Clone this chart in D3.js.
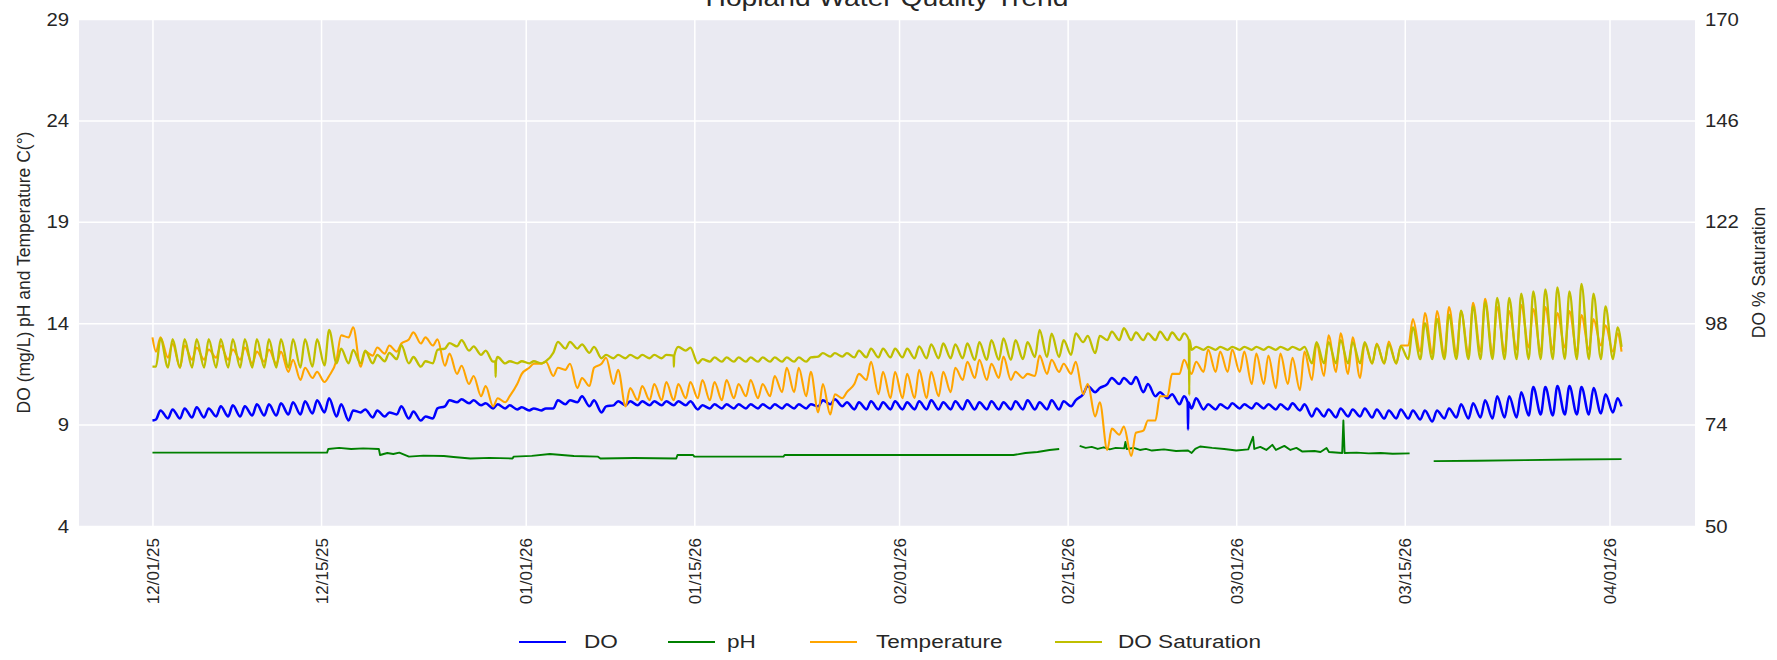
<!DOCTYPE html>
<html><head><meta charset="utf-8">
<script src="https://cdn.jsdelivr.net/npm/d3@7"></script>
<style>html,body{margin:0;padding:0;background:#fff;} svg{display:block;font-family:"Liberation Sans",Arial,Helvetica,sans-serif;}</style>
</head><body><svg id="c" width="1777" height="660"></svg>
<script>
// ---------------- data ----------------
const title = "Hopland Water Quality Trend";
const seriesNames = ["DO", "pH", "Temperature", "DO Saturation"];
const seriesColors = ["#0000ff", "#008000", "#ffa500", "#bfbf00"];
const startDay = [2025, 11, 1];      // 12/01/25, day 0
const dataDays = 122;                // last sample ~04/02/26
const xTickDates = ["2025-12-01","2025-12-15","2026-01-01","2026-01-15","2026-02-01","2026-02-15","2026-03-01","2026-03-15","2026-04-01"];
const leftTicks = [4, 9, 14, 19, 24, 29];
const rightTicks = [50, 74, 98, 122, 146, 170];

// daily low / high (days 0..121)
const doLow = [9.25,9.3,9.3,9.35,9.35,9.4,9.4,9.4,9.45,9.45, 9.45,9.5,9.5,9.55,9.6,9.4,9.2,9.6,9.35,9.4,
  9.5,9.3,9.2,9.3,9.9,10.1,10.05,9.95,9.8,9.8, 9.75,9.7,9.7,9.8,10.0,10.1,9.9,9.6,9.95,9.95,
  9.95,9.95,9.95,9.95,9.95,9.75,9.8,9.8,9.8,9.8, 9.8,9.8,9.8,9.8,9.8,9.9,10.0,9.9,9.75,9.75,
  9.75,9.75,9.75,9.75,9.75,9.75,9.75,9.75,9.75,9.75, 9.75,9.75,9.75,9.75,9.75,9.75,9.9,10.5,10.6,11.0,
  11.0,11.0,10.6,10.4,10.3,10.0,9.8,9.75,9.75,9.8, 9.8,9.8,9.8,9.75,9.75,9.7,9.4,9.4,9.35,9.4,
  9.4,9.35,9.3,9.3,9.3,9.25,9.15,9.3,9.35,9.3, 9.35,9.3,9.35,9.35,9.45,9.5,9.45,9.5,9.5,9.5, 9.55,9.6];
const doHigh = [9.7,9.75,9.8,9.85,9.8,9.9,9.95,9.9,10.0,10.0, 10.05,10.1,10.15,10.2,10.3,10.0,9.7,9.75,9.7,9.6,
  9.9,9.65,9.4,9.8,10.2,10.25,10.2,10.05,10.0,9.95, 9.85,9.8,9.8,10.2,10.2,10.4,10.2,9.9,10.15,10.15,
  10.15,10.15,10.15,10.15,10.15,9.95,10.0,10.0,10.0,10.0, 10.0,10.0,10.0,10.0,10.0,10.2,10.25,10.1,10.1,10.15,
  10.1,10.15,10.1,10.15,10.2,10.1,10.15,10.2,10.1,10.15, 10.1,10.15,10.2,10.1,10.2,10.15,10.2,10.9,10.8,11.3,
  11.3,11.35,11.0,10.6,10.5,10.4,10.3,10.0,10.0,10.05, 10.0,10.05,10.0,10.0,10.05,10.0,9.8,9.75,9.8,9.75,
  9.8,9.75,9.7,9.75,9.7,9.7,9.7,9.8,10.0,10.05, 10.2,10.4,10.4,10.6,10.85,10.85,10.9,10.9,10.85,10.8, 10.5,10.3];
const doEnds = [9.2, 9.9];
const doSpikes = [[86.0, 10.1, 8.75]];   // [day, level, spike value]

const tempLow = [12.6,12.3,11.8,12.2,12.2,12.3,12.2,12.2,12.0,12.1, 12.0,11.6,11.2,11.3,11.1,12.2,13.3,11.85,12.4,12.5,
  12.6,13.2,13.0,12.9,11.9,11.5,11.0,10.4,9.9,10.1, 11.0,11.8,12.0,11.4,11.7,10.8,10.9,12.0,11.0,9.9,
  10.2,10.2,10.2,10.2,10.3,10.3,10.2,10.2,10.3,10.4, 10.3,10.4,10.6,10.6,10.4,9.6,9.5,10.3,11.0,11.2,
  10.5,10.3,10.3,10.3,10.3,10.4,10.6,11.2,11.3,11.2, 11.3,11.2,11.3,11.4,11.5,11.6,11.5,10.5,9.4,7.75,
  8.5,7.45,8.7,9.2,10.4,11.5,11.5,11.6,11.6,11.6, 11.6,11.0,11.0,10.8,11.0,10.7,11.2,11.4,11.6,11.5,
  11.3,12.0,12.0,12.0,12.9,12.6,12.5,12.4,12.5,12.5, 12.6,12.5,12.6,12.7,12.8,12.6,12.7,12.8,12.6,12.7, 12.9,12.6];
const tempHigh = [13.3,13.0,12.9,12.8,12.7,12.9,12.7,12.8,12.6,12.7, 12.6,12.2,11.8,11.6,11.4,13.4,13.8,12.6,12.8,12.9,
  13.0,13.55,13.3,13.2,12.5,11.9,11.4,10.9,10.3,10.4, 11.5,12.0,12.1,11.8,12.0,11.3,11.8,12.3,11.7,10.8,
  10.9,11.0,11.1,11.0,11.1,11.2,11.1,11.2,11.0,11.2, 11.0,11.4,11.8,11.8,11.6,11.0,10.5,10.6,11.5,12.1,
  11.6,11.6,11.5,11.7,11.6,11.6,11.8,12.1,12.2,12.0, 12.35,11.6,11.5,12.4,12.2,12.0,12.1,11.0,10.1,8.8,
  8.9,8.6,9.2,10.4,11.5,12.2,12.1,12.7,12.6,12.7, 12.6,12.5,12.4,12.5,12.3,12.6,13.0,13.4,13.5,13.3,
  13.0,13.0,13.1,12.9,14.2,14.5,14.6,14.8,14.6,15.0, 15.2,14.8,14.6,14.9,14.7,14.8,14.5,14.6,14.4,14.2, 13.9,13.5];
const tempEnds = [13.3, 12.6];

const satLow = [87.7,87.5,87.5,87.5,87.5,87.5,87.5,87.5,87.5,87.5, 87.5,87.5,87.5,87.7,88.0,88.5,88.5,88.5,88.5,89.0,
  89.5,88.5,87.7,88.5,92.0,92.5,91.5,90.5,88.9,88.5, 88.5,88.5,88.5,91.0,92.0,92.0,91.0,89.7,89.7,89.7,
  89.7,89.7,89.7,89.5,91.5,88.5,88.9,88.9,88.9,88.9, 88.9,88.9,88.9,88.9,88.9,90.1,90.1,90.1,89.9,89.9,
  89.9,89.9,89.9,89.7,89.7,89.7,89.7,89.7,89.3,89.3, 89.3,89.3,89.5,90.0,90.0,90.0,90.5,93.5,90.9,94.0,
  94.0,94.0,94.0,94.0,94.0,94.0,91.7,91.7,91.7,91.7, 91.7,91.7,91.7,91.7,91.7,91.7,88.5,88.5,88.5,88.5,
  88.5,88.5,88.5,88.5,89.5,89.5,89.5,89.5,89.5,89.5, 89.5,89.5,89.5,89.5,89.5,89.5,89.5,89.5,89.5,89.5, 89.5,89.5];
const satHigh = [94.4,94.2,94.2,94.2,94.2,94.2,94.2,94.2,94.2,94.2, 94.2,94.2,94.2,94.2,96.4,92.0,91.7,91.5,90.5,91.0,
  92.8,90.0,89.0,91.7,93.3,94.0,92.5,91.5,90.0,89.0, 89.0,89.0,89.0,93.6,93.6,93.0,92.4,90.5,90.5,90.5,
  90.5,90.5,90.5,92.4,92.2,89.5,89.9,89.9,89.9,89.9, 89.9,89.9,89.9,89.9,89.9,90.9,90.9,90.9,91.5,92.0,
  92.0,92.0,92.0,92.5,93.0,93.2,93.0,93.2,93.5,94.0, 94.4,94.0,93.5,96.4,95.5,94.0,95.6,95.0,95.0,96.0,
  96.8,95.8,95.6,96.0,95.8,95.6,92.4,92.4,92.4,92.4, 92.4,92.4,92.4,92.4,92.4,92.4,93.5,93.5,94.0,93.5,
  93.5,93.0,93.0,92.5,97.0,98.0,99.0,100.0,101.0,102.0, 103.0,104.0,104.0,105.0,105.5,106.0,106.5,105.5,107.3,105.0, 102.0,97.0];
const satEnds = [87.7, 92.4];
const satSpikes = [[28.5, 89.0, 85.3], [43.3, 90.3, 87.7], [86.1, 94.0, 81.0]];

// pH: [day, value]; null value = gap in record
const phDays = [0,14.5,14.6,15.5,16.5,17.5,18.8,18.9,19.5,20,20.5,21.3,22.5,24.2,25,26.4,28,29.9,30,31.5,33,35,37,37.2,40,43.5,43.6,44.9,45,52.4,52.5,
  71.5,72.5,73.5,74.5,75.3,75.4,76.9,
  77,77.5,78,78.5,79,79.5,80,80.7,80.8,80.9,81.5,82,82.5,83,84,85,86,86.3,86.6,87,88,89,90,91,91.4,91.5,92,92.5,93,93.3,94,94.5,95,95.5,
  96.5,97,97.5,97.7,98.8,98.9,99,100,101,102,103,104.4,104.5,106.3,106.4,110,114,118,122];
const phValues = [7.62,7.62,7.8,7.85,7.8,7.83,7.8,7.5,7.6,7.55,7.62,7.42,7.47,7.45,7.4,7.33,7.36,7.33,7.42,7.46,7.55,7.45,7.42,7.33,7.35,7.33,7.5,7.5,7.42,7.42,7.5,
  7.5,7.6,7.65,7.75,7.8,null,null,
  7.95,7.85,7.9,7.8,7.88,7.78,7.85,7.83,8.15,7.8,7.85,7.75,7.8,7.72,7.78,7.7,7.72,7.6,7.8,7.92,7.85,7.8,7.72,7.78,8.4,7.8,7.9,7.75,8.0,7.75,7.95,7.75,7.85,7.67,
  7.7,7.65,7.85,7.65,7.6,9.2,7.6,7.62,7.58,7.6,7.56,7.58,null,null,7.2,7.22,7.25,7.28,7.3];

// ---------------- build series ----------------
const t0 = new Date(startDay[0], startDay[1], startDay[2]);
const DAY = 864e5;
const toDate = d => new Date(t0.getTime() + d * DAY);

function dailySeries(low, high, ends, spikes) {
  const pts = [[0, ends[0]]];
  low.forEach((v, i) => { pts.push([i + 0.29, v]); pts.push([i + 0.67, high[i]]); });
  pts.push([dataDays, ends[1]]);
  (spikes || []).forEach(s => { pts.push([s[0] - 0.03, s[1]]); pts.push([s[0], s[2]]); pts.push([s[0] + 0.03, s[1]]); });
  pts.sort((a, b) => a[0] - b[0]);
  return pts.map(p => ({ t: toDate(p[0]), v: p[1] }));
}
const doSeries = dailySeries(doLow, doHigh, doEnds, doSpikes);
const tempSeries = dailySeries(tempLow, tempHigh, tempEnds, []);
const satSeries = dailySeries(satLow, satHigh, satEnds, satSpikes);
const phSeries = phDays.map((d, i) => ({ t: toDate(d), v: phValues[i] }));

// ---------------- layout ----------------
const L = 79, R = 1695, T = 19, B = 526;
const svg = d3.select("#c");
const ink = "#262626";

const margin = 0.05 * dataDays;
const x = d3.scaleTime().domain([toDate(-margin), toDate(dataDays + margin)]).range([L, R]);
const yL = d3.scaleLinear().domain([4, 29]).range([B, T]);
const yR = d3.scaleLinear().domain([50, 170]).range([B, T]);

svg.append("rect").attr("x", L).attr("y", T).attr("width", R - L).attr("height", B - T).attr("fill", "#eaeaf2");

// left axis + horizontal grid
const gL = svg.append("g").attr("transform", `translate(${L},0)`)
  .call(d3.axisLeft(yL).tickValues(leftTicks).tickSize(-(R - L)).tickPadding(0));
gL.select(".domain").remove();
gL.selectAll(".tick line").attr("stroke", "#ffffff").attr("stroke-width", 1.5);
gL.selectAll(".tick text").attr("x", null).attr("dy", "0.34em")
  .attr("transform", "translate(-10,0) scale(1.13,1)")
  .attr("font-size", 18).attr("fill", ink).attr("font-family", "Liberation Sans, Arial, sans-serif");

// right axis
const gR = svg.append("g").attr("transform", `translate(${R},0)`)
  .call(d3.axisRight(yR).tickValues(rightTicks).tickSize(0).tickPadding(0));
gR.select(".domain").remove();
gR.selectAll(".tick text").attr("x", null).attr("dy", "0.34em")
  .attr("transform", "translate(10,0) scale(1.13,1)")
  .attr("font-size", 18).attr("fill", ink).attr("font-family", "Liberation Sans, Arial, sans-serif");

// bottom axis + vertical grid
const fmt = d3.timeFormat("%m/%d/%y");
const gB = svg.append("g").attr("transform", `translate(0,${B})`)
  .call(d3.axisBottom(x).tickValues(xTickDates.map(s => { const p = s.split("-"); return new Date(+p[0], +p[1] - 1, +p[2]); }))
    .tickFormat(fmt).tickSize(-(B - T)).tickPadding(0));
gB.select(".domain").remove();
gB.selectAll(".tick line").attr("stroke", "#ffffff").attr("stroke-width", 1.5);
gB.selectAll(".tick text").attr("y", null).attr("dy", "0.36em")
  .attr("transform", "rotate(-90) translate(-12,0)")
  .attr("text-anchor", "end")
  .attr("font-size", 17).attr("fill", ink).attr("font-family", "Liberation Sans, Arial, sans-serif");

// lines
const smooth = d3.curveMonotoneX;
const lineL = d3.line().defined(d => d.v != null).curve(smooth).x(d => x(d.t)).y(d => yL(d.v));
const lineR = d3.line().defined(d => d.v != null).curve(smooth).x(d => x(d.t)).y(d => yR(d.v));
const linePh = d3.line().defined(d => d.v != null).x(d => x(d.t)).y(d => yL(d.v));
const plot = svg.append("g");
const drawn = [
  [doSeries, lineL, seriesColors[0], 2.5],
  [phSeries, linePh, seriesColors[1], 1.9],
  [tempSeries, lineL, seriesColors[2], 2.1],
  [satSeries, lineR, seriesColors[3], 2.3]
];
drawn.forEach(([data, gen, col, w]) => {
  plot.append("path").datum(data).attr("d", gen).attr("fill", "none")
    .attr("stroke", col).attr("stroke-width", w).attr("stroke-linejoin", "round");
});

// axis labels
svg.append("text").attr("transform", `translate(30,${(T + B) / 2}) rotate(-90)`)
  .attr("text-anchor", "middle").attr("font-size", 17.5).attr("fill", ink)
  .text("DO (mg/L) pH and Temperature C(°)");
svg.append("text").attr("transform", `translate(1765,${(T + B) / 2}) rotate(-90)`)
  .attr("text-anchor", "middle").attr("font-size", 17.5).attr("fill", ink)
  .text("DO % Saturation");

// title (cut by the top edge, as in the reference)
svg.append("text").attr("x", (L + R) / 2).attr("y", 6).attr("text-anchor", "middle")
  .attr("font-size", 24).attr("fill", ink).attr("textLength", 363).attr("lengthAdjust", "spacingAndGlyphs")
  .text(title);

// legend
const legendLine = [519, 668, 810, 1055];
const legendText = [584, 727, 876, 1118];
const ly = 642;
seriesNames.forEach((n, i) => {
  svg.append("line").attr("x1", legendLine[i]).attr("x2", legendLine[i] + 47)
    .attr("y1", ly).attr("y2", ly).attr("stroke", seriesColors[i]).attr("stroke-width", 2);
  svg.append("text").attr("transform", `translate(${legendText[i]},${ly}) scale(1.22,1)`)
    .attr("dy", "0.35em").attr("font-size", 18.5).attr("fill", ink).text(n);
});
</script></body></html>
